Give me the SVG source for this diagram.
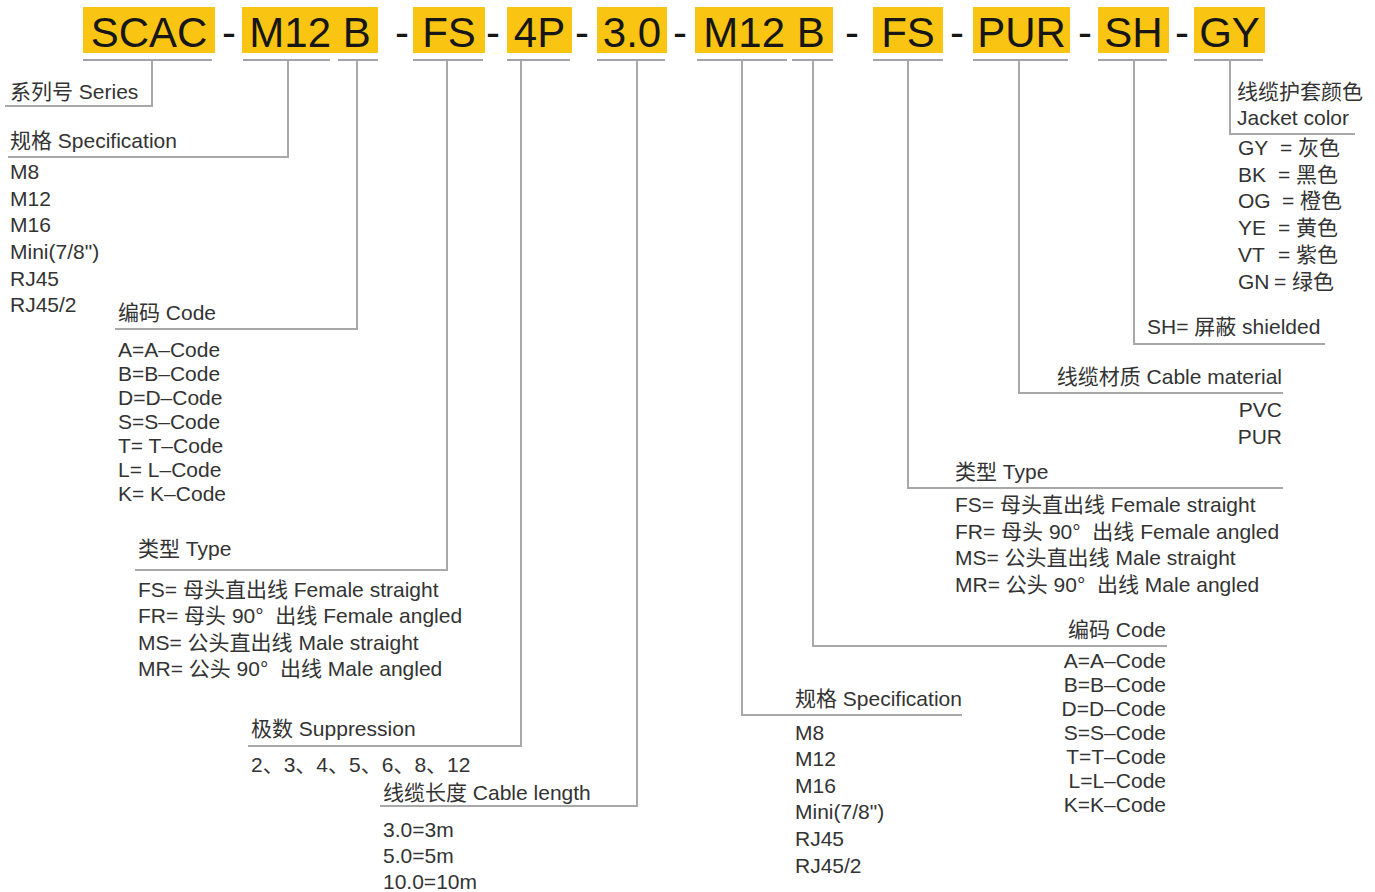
<svg xmlns="http://www.w3.org/2000/svg" width="1375" height="892" viewBox="0 0 1375 892">
<style>
.t{font-family:"Liberation Sans","Noto Sans CJK SC",sans-serif;font-size:21px;fill:#333;white-space:pre}
.e{text-anchor:end}
.code{font-family:"Liberation Sans","Noto Sans CJK SC",sans-serif;font-size:42px;fill:#161616;text-anchor:middle}
.box{fill:#F9C512}
.ul{stroke:#a3a3ad;stroke-width:2}
.ln{stroke:#a8a8a8;stroke-width:2;fill:none}
</style>
<rect width="1375" height="892" fill="#fff"/>

<g id="code-bar">
  <g id="seg-scac"><rect class="box" x="83" y="7" width="132" height="46"/><text class="code" x="149" y="47">SCAC</text><line class="ul" x1="83" y1="60" x2="212" y2="60"/></g>
  <g id="seg-m12b-1"><rect class="box" x="242" y="7" width="136" height="46"/><text class="code" x="310" y="47">M12 B</text><line class="ul" x1="243" y1="60" x2="330" y2="60"/><line class="ul" x1="338" y1="60" x2="378" y2="60"/></g>
  <g id="seg-fs-1"><rect class="box" x="413" y="7" width="72" height="46"/><text class="code" x="449" y="47">FS</text><line class="ul" x1="413" y1="60" x2="483" y2="60"/></g>
  <g id="seg-4p"><rect class="box" x="507" y="7" width="65" height="46"/><text class="code" x="539.5" y="47">4P</text><line class="ul" x1="507" y1="60" x2="570" y2="60"/></g>
  <g id="seg-3-0"><rect class="box" x="597" y="7" width="70" height="46"/><text class="code" x="632" y="47">3.0</text><line class="ul" x1="597" y1="60" x2="665" y2="60"/></g>
  <g id="seg-m12b-2"><rect class="box" x="695" y="7" width="138" height="46"/><text class="code" x="764" y="47">M12 B</text><line class="ul" x1="697" y1="60" x2="787" y2="60"/><line class="ul" x1="792" y1="60" x2="833" y2="60"/></g>
  <g id="seg-fs-2"><rect class="box" x="873" y="7" width="70" height="46"/><text class="code" x="908" y="47">FS</text><line class="ul" x1="873" y1="60" x2="943" y2="60"/></g>
  <g id="seg-pur"><rect class="box" x="973" y="7" width="97" height="46"/><text class="code" x="1021.5" y="47">PUR</text><line class="ul" x1="973" y1="60" x2="1068" y2="60"/></g>
  <g id="seg-sh"><rect class="box" x="1098" y="7" width="71" height="46"/><text class="code" x="1133.5" y="47">SH</text><line class="ul" x1="1098" y1="60" x2="1167" y2="60"/></g>
  <g id="seg-gy"><rect class="box" x="1194" y="7" width="71" height="46"/><text class="code" x="1229.5" y="47">GY</text><line class="ul" x1="1194" y1="60" x2="1263" y2="60"/></g>
  <g id="dashes">
    <text class="code" x="229" y="47">-</text>
    <text class="code" x="402" y="47">-</text>
    <text class="code" x="493" y="47">-</text>
    <text class="code" x="582" y="47">-</text>
    <text class="code" x="680" y="47">-</text>
    <text class="code" x="852" y="47">-</text>
    <text class="code" x="957" y="47">-</text>
    <text class="code" x="1085" y="47">-</text>
    <text class="code" x="1182" y="47">-</text>
  </g>
</g>

<g id="connectors">
  <path class="ln" d="M152,61 V106 H5"/>
  <path class="ln" d="M288,61 V157 H8"/>
  <path class="ln" d="M357,61 V329 H115"/>
  <path class="ln" d="M447,61 V570 H135"/>
  <path class="ln" d="M521,61 V746 H248"/>
  <path class="ln" d="M637,61 V806 H380"/>
  <path class="ln" d="M742,61 V715 H962"/>
  <path class="ln" d="M813,61 V646 H1167"/>
  <path class="ln" d="M908,61 V488 H1283"/>
  <path class="ln" d="M1019,61 V393 H1283"/>
  <path class="ln" d="M1134,61 V344 H1325"/>
  <path class="ln" d="M1230,61 V134 H1355"/>
</g>

<g id="series"><text class="t" x="10" y="99">系列号 Series</text></g>

<g id="spec-left">
  <text class="t" x="10" y="148">规格 Specification</text>
  <text class="t" x="10" y="179">M8</text>
  <text class="t" x="10" y="206">M12</text>
  <text class="t" x="10" y="232">M16</text>
  <text class="t" x="10" y="259">Mini(7/8")</text>
  <text class="t" x="10" y="286">RJ45</text>
  <text class="t" x="10" y="312">RJ45/2</text>
</g>

<g id="code-left">
  <text class="t" x="118" y="320">编码 Code</text>
  <text class="t" x="118" y="357">A=A–Code</text>
  <text class="t" x="118" y="381">B=B–Code</text>
  <text class="t" x="118" y="405">D=D–Code</text>
  <text class="t" x="118" y="429">S=S–Code</text>
  <text class="t" x="118" y="453">T= T–Code</text>
  <text class="t" x="118" y="477">L= L–Code</text>
  <text class="t" x="118" y="501">K= K–Code</text>
</g>

<g id="type-left">
  <text class="t" x="138" y="556">类型 Type</text>
  <text class="t" x="138" y="597">FS= 母头直出线 Female straight</text>
  <text class="t" x="138" y="623">FR= 母头 90°  出线 Female angled</text>
  <text class="t" x="138" y="650">MS= 公头直出线 Male straight</text>
  <text class="t" x="138" y="676">MR= 公头 90°  出线 Male angled</text>
</g>

<g id="suppression">
  <text class="t" x="251" y="736">极数 Suppression</text>
  <text class="t" x="251" y="772">2、3、4、5、6、8、12</text>
</g>

<g id="cable-length">
  <text class="t" x="383" y="800">线缆长度 Cable length</text>
  <text class="t" x="383" y="837">3.0=3m</text>
  <text class="t" x="383" y="863">5.0=5m</text>
  <text class="t" x="383" y="889">10.0=10m</text>
</g>

<g id="jacket-color">
  <text class="t" x="1237" y="99">线缆护套颜色</text>
  <text class="t" x="1237" y="125">Jacket color</text>
  <text class="t" x="1238" y="155">GY<tspan x="1280">= 灰色</tspan></text>
  <text class="t" x="1238" y="182">BK<tspan x="1278">= 黑色</tspan></text>
  <text class="t" x="1238" y="208">OG<tspan x="1282">= 橙色</tspan></text>
  <text class="t" x="1238" y="235">YE<tspan x="1278">= 黄色</tspan></text>
  <text class="t" x="1238" y="262">VT<tspan x="1278">= 紫色</tspan></text>
  <text class="t" x="1238" y="289">GN<tspan x="1274">= 绿色</tspan></text>
</g>

<g id="shielded"><text class="t" x="1147" y="334">SH= 屏蔽 shielded</text></g>

<g id="cable-material">
  <text class="t e" x="1282" y="384">线缆材质 Cable material</text>
  <text class="t e" x="1282" y="417">PVC</text>
  <text class="t e" x="1282" y="444">PUR</text>
</g>

<g id="type-right">
  <text class="t" x="955" y="479">类型 Type</text>
  <text class="t" x="955" y="512">FS= 母头直出线 Female straight</text>
  <text class="t" x="955" y="539">FR= 母头 90°  出线 Female angled</text>
  <text class="t" x="955" y="565">MS= 公头直出线 Male straight</text>
  <text class="t" x="955" y="592">MR= 公头 90°  出线 Male angled</text>
</g>

<g id="code-right">
  <text class="t e" x="1166" y="637">编码 Code</text>
  <text class="t e" x="1166" y="668">A=A–Code</text>
  <text class="t e" x="1166" y="692">B=B–Code</text>
  <text class="t e" x="1166" y="716">D=D–Code</text>
  <text class="t e" x="1166" y="740">S=S–Code</text>
  <text class="t e" x="1166" y="764">T=T–Code</text>
  <text class="t e" x="1166" y="788">L=L–Code</text>
  <text class="t e" x="1166" y="812">K=K–Code</text>
</g>

<g id="spec-right">
  <text class="t" x="795" y="706">规格 Specification</text>
  <text class="t" x="795" y="740">M8</text>
  <text class="t" x="795" y="766">M12</text>
  <text class="t" x="795" y="793">M16</text>
  <text class="t" x="795" y="819">Mini(7/8")</text>
  <text class="t" x="795" y="846">RJ45</text>
  <text class="t" x="795" y="873">RJ45/2</text>
</g>
</svg>
